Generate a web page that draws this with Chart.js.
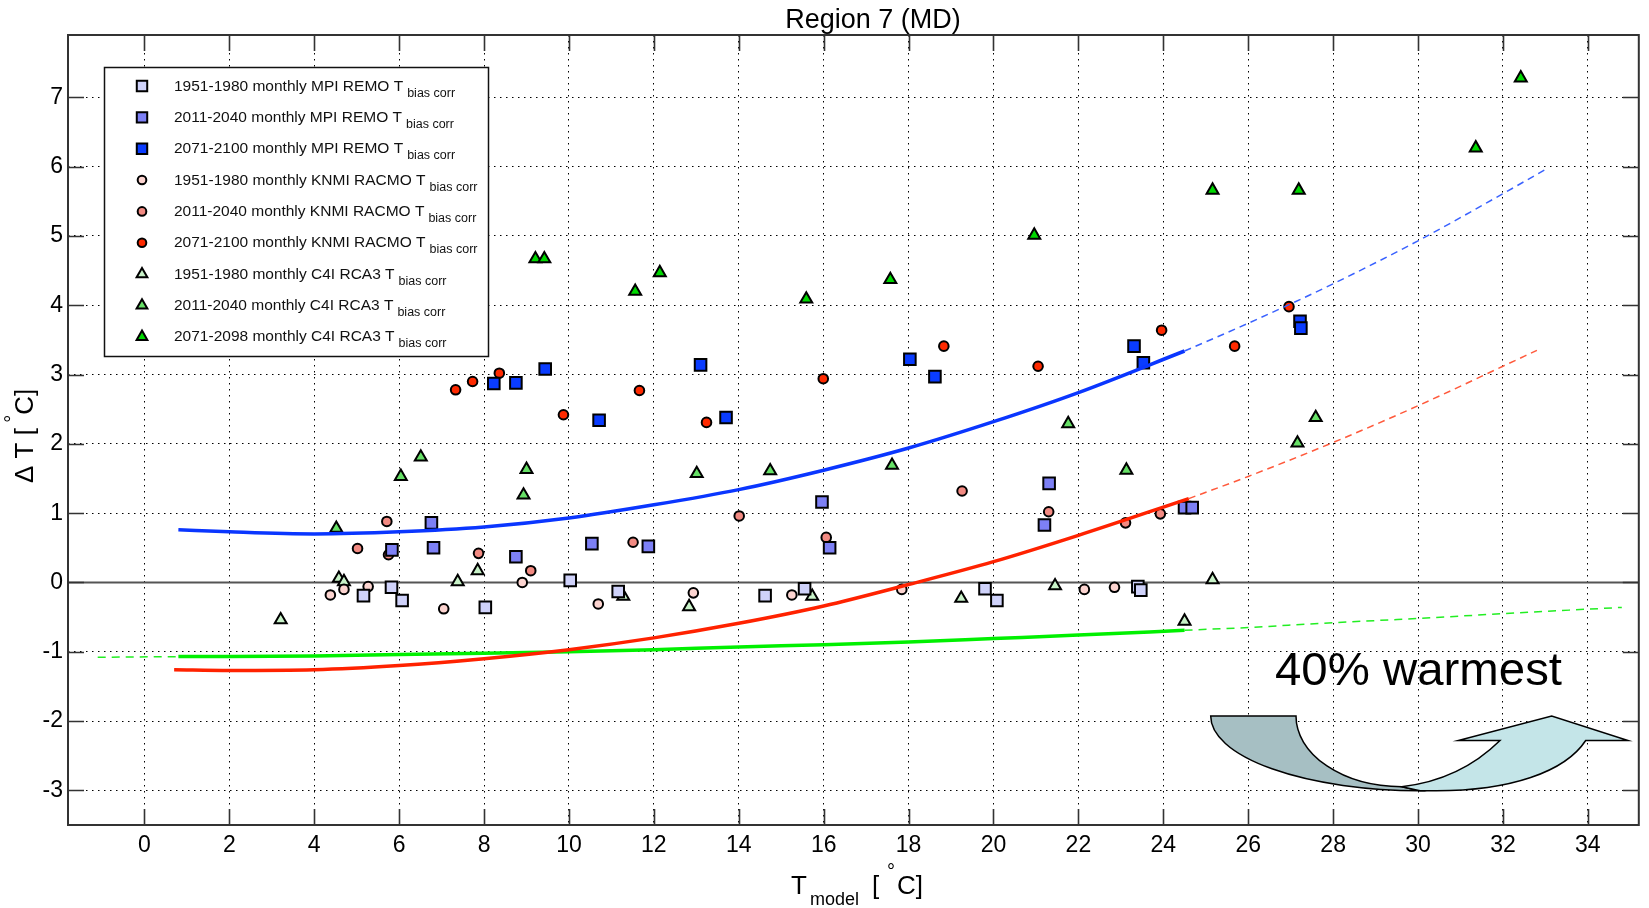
<!DOCTYPE html>
<html>
<head>
<meta charset="utf-8">
<title>Region 7 (MD)</title>
<script src="https://cdn.jsdelivr.net/npm/chart.js@4.4.1/dist/chart.umd.min.js"></script>
<style>
  html, body { margin: 0; background: #fff; }
  canvas { display: block; }
</style>
</head>
<body>
<canvas id="cvs" width="1649" height="908"></canvas>
<script>
// axes
const xTicks = [0, 2, 4, 6, 8, 10, 12, 14, 16, 18, 20, 22, 24, 26, 28, 30, 32, 34];
const yTicks = [-3, -2, -1, 0, 1, 2, 3, 4, 5, 6, 7];

// monthly points  [T_model, dT]
const mpi1951  = [[5.16,-0.19],[5.82,-0.07],[6.07,-0.26],[8.03,-0.36],[10.03,0.03],[11.16,-0.13],[14.62,-0.19],[15.55,-0.09],[19.80,-0.09],[20.08,-0.26],[23.40,-0.06],[23.47,-0.11]];
const mpi2011  = [[5.83,0.47],[6.76,0.86],[6.81,0.50],[8.75,0.37],[10.54,0.56],[11.87,0.52],[15.96,1.16],[16.14,0.50],[21.20,0.83],[21.31,1.43],[24.50,1.08],[24.68,1.08]];
const mpi2071  = [[8.23,2.87],[8.75,2.88],[9.44,3.08],[10.71,2.34],[13.10,3.14],[13.70,2.38],[18.03,3.22],[18.62,2.97],[23.31,3.41],[23.53,3.17],[27.22,3.77],[27.24,3.67]];
const knmi1951 = [[4.38,-0.18],[4.70,-0.10],[5.27,-0.06],[7.05,-0.38],[8.90,0.00],[10.69,-0.31],[12.93,-0.15],[15.25,-0.18],[17.84,-0.10],[20.08,-0.26],[22.14,-0.10],[22.85,-0.07]];
const knmi2011 = [[5.02,0.49],[5.71,0.88],[5.75,0.40],[7.87,0.42],[9.10,0.17],[11.51,0.58],[14.01,0.96],[16.06,0.65],[19.26,1.32],[21.30,1.02],[23.11,0.86],[23.93,0.99]];
const knmi2071 = [[7.33,2.78],[7.73,2.90],[8.36,3.02],[9.87,2.42],[11.66,2.77],[13.24,2.31],[15.99,2.94],[18.83,3.41],[21.05,3.12],[23.96,3.64],[25.68,3.41],[26.96,3.98]];
const c4i1951  = [[3.21,-0.54],[4.58,0.06],[4.70,0.01],[7.38,0.01],[7.85,0.17],[11.28,-0.20],[12.83,-0.35],[15.73,-0.20],[19.24,-0.23],[21.45,-0.05],[24.50,-0.56],[25.16,0.04]];
const c4i2011  = [[4.52,0.78],[6.04,1.53],[6.51,1.81],[8.93,1.26],[9.00,1.63],[13.01,1.57],[14.74,1.61],[17.61,1.69],[21.76,2.29],[23.13,1.62],[27.16,2.01],[27.59,2.38]];
const c4i2071  = [[9.21,4.67],[9.42,4.67],[11.56,4.20],[12.14,4.47],[15.59,4.09],[17.57,4.37],[20.96,5.01],[25.16,5.66],[27.19,5.66],[31.36,6.27],[32.42,7.28]];

// fitted curves (solid = fitted range, dashed = extension)
const blueX    = [0.8, 2, 4, 6, 8, 10, 12, 14, 16, 18, 20, 22, 24.5];
const blueY    = [0.76, 0.73, 0.70, 0.73, 0.80, 0.93, 1.12, 1.34, 1.62, 1.94, 2.32, 2.74, 3.34];
const blueExtX = [24.5, 26, 28, 30, 32, 33];
const blueExtY = [3.34, 3.74, 4.31, 4.93, 5.61, 5.96];
const redX     = [0.7, 2, 4, 6, 8, 10, 12, 14, 16, 18, 20, 22, 24.6];
const redY     = [-1.26, -1.27, -1.26, -1.20, -1.10, -0.97, -0.80, -0.59, -0.34, -0.03, 0.30, 0.68, 1.21];
const redExtX  = [24.6, 26, 28, 30, 32, 32.8];
const redExtY  = [1.21, 1.53, 2.02, 2.55, 3.12, 3.35];
const greenX   = [0.8, 2, 4, 6, 8, 10, 12, 14, 16, 18, 20, 22, 24.5];
const greenY   = [-1.07, -1.07, -1.06, -1.04, -1.02, -1.00, -0.97, -0.93, -0.90, -0.86, -0.81, -0.76, -0.69];
const greenPreX = [-1.1, 0.8];
const greenPreY = [-1.08, -1.07];
const greenExtX = [24.5, 26, 28, 30, 32, 34.8];
const greenExtY = [-0.69, -0.65, -0.58, -0.52, -0.45, -0.36];

const legendLabels = [
  '1951-1980 monthly MPI REMO T', '2011-2040 monthly MPI REMO T', '2071-2100 monthly MPI REMO T',
  '1951-1980 monthly KNMI RACMO T', '2011-2040 monthly KNMI RACMO T', '2071-2100 monthly KNMI RACMO T',
  '1951-1980 monthly C4I RCA3 T', '2011-2040 monthly C4I RCA3 T', '2071-2098 monthly C4I RCA3 T'
];

const FONT = "'Liberation Sans', Arial, Helvetica, sans-serif";
const col = {
  mpiPale: '#cfd2fa', mpiMid: '#7d80f5', mpiDark: '#0a3cff',
  knmiPale: '#fcd4d0', knmiMid: '#f28a82', knmiDark: '#ff2a00',
  c4iPale: '#c8f2c8', c4iMid: '#66e066', c4iDark: '#00d800'
};
const BW = 2;

const pts = (arr) => arr.map(([x, y]) => ({ x, y }));
const xy = (xs, ys) => xs.map((x, i) => ({ x, y: ys[i] }));

function markerSet(data, style, fill, r) {
  return { data: pts(data), pointStyle: style, backgroundColor: fill, borderColor: '#000',
           borderWidth: BW, pointRadius: r, pointHoverRadius: r, showLine: false, order: 2 };
}
function curveSet(xs, ys, color, width, dash) {
  return { data: xy(xs, ys), showLine: true, pointRadius: 0, pointHoverRadius: 0, borderColor: color,
           borderWidth: width, borderDash: dash, cubicInterpolationMode: 'monotone', fill: false, order: 1 };
}

const markers = [
  ['rect', col.mpiPale, 8.2, mpi1951], ['rect', col.mpiMid, 8.2, mpi2011], ['rect', col.mpiDark, 8.2, mpi2071],
  ['circle', col.knmiPale, 4.8, knmi1951], ['circle', col.knmiMid, 4.8, knmi2011], ['circle', col.knmiDark, 4.8, knmi2071],
  ['triangle', col.c4iPale, 6.9, c4i1951], ['triangle', col.c4iMid, 6.9, c4i2011], ['triangle', col.c4iDark, 6.9, c4i2071]
];

const datasets = [
  { data: [{ x: -1.8, y: 0 }, { x: 35.2, y: 0 }], showLine: true, pointRadius: 0, borderColor: '#555', borderWidth: 2, order: 3 },
  ...markers.map(m => markerSet(m[3], m[0], m[1], m[2])),
  curveSet(blueX, blueY, '#0a36ff', 3.5, []),
  curveSet(blueExtX, blueExtY, '#3a62ff', 1.5, [7, 5]),
  curveSet(redX, redY, '#ff2200', 3.5, []),
  curveSet(redExtX, redExtY, '#ff5a3c', 1.5, [7, 5]),
  curveSet(greenX, greenY, '#00f000', 3.5, []),
  curveSet(greenPreX, greenPreY, '#22ee22', 1.5, [8, 6]),
  curveSet(greenExtX, greenExtY, '#22ee22', 1.5, [8, 6])
];

function marker(ctx, style, x, y, r) {
  if (Chart.helpers && Chart.helpers.drawPoint) {
    Chart.helpers.drawPoint(ctx, { pointStyle: style, radius: r, rotation: 0, borderWidth: BW }, x, y);
    return;
  }
  ctx.beginPath();
  if (style === 'rect') { const s = r * Math.SQRT1_2; ctx.rect(x - s, y - s, 2 * s, 2 * s); }
  else if (style === 'circle') ctx.arc(x, y, r, 0, Math.PI * 2);
  else { ctx.moveTo(x, y - r); ctx.lineTo(x + r * 0.866, y + r / 2); ctx.lineTo(x - r * 0.866, y + r / 2); ctx.closePath(); }
  ctx.fill(); ctx.stroke();
}

const decor = {
  id: 'decor',
  afterDraw(chart) {
    const { ctx, chartArea: a, scales: { x, y } } = chart;
    ctx.save();

    // inward ticks + box
    ctx.strokeStyle = '#333';
    ctx.lineWidth = 1.6;
    ctx.beginPath();
    xTicks.forEach(v => {
      const px = Math.round(x.getPixelForValue(v)) + 0.5;
      ctx.moveTo(px, a.bottom); ctx.lineTo(px, a.bottom - 16);
      ctx.moveTo(px, a.top); ctx.lineTo(px, a.top + 16);
    });
    yTicks.forEach(v => {
      const py = Math.round(y.getPixelForValue(v)) + 0.5;
      ctx.moveTo(a.left, py); ctx.lineTo(a.left + 16, py);
      ctx.moveTo(a.right, py); ctx.lineTo(a.right - 16, py);
    });
    ctx.stroke();
    ctx.lineWidth = 2;
    ctx.strokeRect(a.left, a.top, a.right - a.left, a.bottom - a.top);

    // title
    ctx.fillStyle = '#000';
    ctx.textAlign = 'center';
    ctx.textBaseline = 'alphabetic';
    ctx.font = '27px ' + FONT;
    ctx.fillText('Region 7 (MD)', 873, 28);

    // x label
    ctx.textAlign = 'left';
    ctx.font = '26px ' + FONT;
    ctx.fillText('T', 791, 894);
    ctx.font = '18px ' + FONT;
    ctx.fillText('model', 810, 905);
    ctx.font = '26px ' + FONT;
    ctx.fillText('[', 872, 894);
    ctx.font = '20px ' + FONT;
    ctx.fillText('°', 887, 878);
    ctx.font = '26px ' + FONT;
    ctx.fillText('C]', 897, 894);

    // y label
    ctx.save();
    ctx.translate(33, 483);
    ctx.rotate(-Math.PI / 2);
    ctx.font = '26px ' + FONT;
    let cx = 0;
    ctx.fillText('\u0394 T [ ', cx, 0);
    cx += ctx.measureText('\u0394 T [ ').width;
    ctx.font = '20px ' + FONT;
    ctx.fillText('°', cx - 2, -14);
    cx += ctx.measureText('°').width - 2;
    ctx.font = '26px ' + FONT;
    ctx.fillText('C]', cx, 0);
    ctx.restore();

    // legend
    ctx.fillStyle = '#fff';
    ctx.fillRect(104, 67, 384, 289);
    ctx.strokeStyle = '#111';
    ctx.lineWidth = 1.5;
    ctx.strokeRect(104.5, 67.5, 384, 289);
    legendLabels.forEach((lab, i) => {
      const cy = 86 + i * 31.35;
      const m = markers[i];
      ctx.fillStyle = m[1];
      ctx.strokeStyle = '#000';
      ctx.lineWidth = BW;
      marker(ctx, m[0], 142, cy, m[2] * 0.9);
      ctx.fillStyle = '#111';
      ctx.font = '15.5px ' + FONT;
      ctx.fillText(lab, 174, cy + 4.5);
      const w = ctx.measureText(lab).width;
      ctx.font = '12.5px ' + FONT;
      ctx.fillText('bias corr', 174 + w + 4, cy + 10.5);
    });

    // arrow
    ctx.lineWidth = 1.5;
    ctx.strokeStyle = '#000';
    ctx.beginPath();
    ctx.moveTo(1210.7, 716);
    ctx.lineTo(1296, 716);
    ctx.ellipse(1401.7, 716, 105.7, 70.7, 0, Math.PI, Math.PI / 2, true);
    ctx.lineTo(1420, 790.7);
    ctx.ellipse(1420, 716, 209.3, 74.7, 0, Math.PI / 2, Math.PI, false);
    ctx.closePath();
    ctx.fillStyle = '#a6bfc3';
    ctx.fill();
    ctx.stroke();

    ctx.beginPath();
    ctx.moveTo(1401.7, 786.7);
    ctx.quadraticCurveTo(1460, 780, 1500, 740.5);
    ctx.lineTo(1458.3, 740.5);
    ctx.lineTo(1551.7, 716);
    ctx.lineTo(1628, 740.5);
    ctx.lineTo(1585.7, 740.5);
    ctx.bezierCurveTo(1565, 772, 1510, 791, 1435, 790.8);
    ctx.lineTo(1420, 790.7);
    ctx.closePath();
    ctx.fillStyle = '#c4e5e8';
    ctx.fill();
    ctx.stroke();

    // label
    ctx.fillStyle = '#000';
    ctx.font = '47px ' + FONT;
    const tw = ctx.measureText('40% warmest').width;
    ctx.save();
    ctx.translate(1275, 685);
    ctx.scale(287 / tw, 1);
    ctx.fillText('40% warmest', 0, 0);
    ctx.restore();

    ctx.restore();
  }
};

const tickFont = { family: FONT, size: 23 };

new Chart(document.getElementById('cvs'), {
  type: 'scatter',
  data: { datasets },
  options: {
    responsive: false,
    animation: false,
    devicePixelRatio: 1,
    layout: { padding: { top: 35, right: 1, left: 0, bottom: 0 } },
    plugins: { legend: { display: false }, title: { display: false }, tooltip: { enabled: false } },
    scales: {
      x: {
        type: 'linear', min: -1.8, max: 35.2,
        afterBuildTicks: s => { s.ticks = xTicks.map(v => ({ value: v })); },
        afterFit: s => { s.height = 83; },
        grid: { color: '#000', lineWidth: 1, drawTicks: false },
        border: { display: false, dash: [1.5, 4.5] },
        ticks: { font: tickFont, color: '#000', padding: 7, maxRotation: 0, autoSkip: false }
      },
      y: {
        type: 'linear', min: -3.5, max: 7.9,
        afterBuildTicks: s => { s.ticks = yTicks.map(v => ({ value: v })); },
        afterFit: s => { s.width = 68; },
        grid: { color: '#000', lineWidth: 1, drawTicks: false },
        border: { display: false, dash: [1.5, 4.5] },
        ticks: { font: tickFont, color: '#000', padding: 5, autoSkip: false }
      }
    }
  },
  plugins: [decor]
});
</script>
</body>
</html>
